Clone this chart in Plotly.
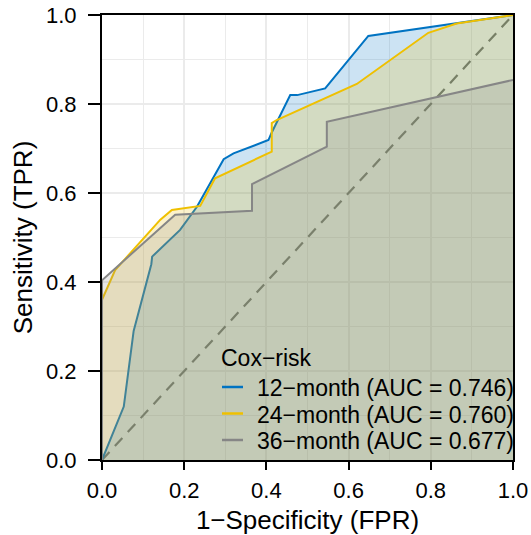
import plotly.graph_objects as go

# ---- data ----
fpr_12 = [0, 0.053, 0.077, 0.12, 0.122, 0.19, 0.231, 0.296, 0.32, 0.405, 0.413, 0.458, 0.475, 0.543, 0.648, 0.863, 1.0]
tpr_12 = [0, 0.12, 0.29, 0.44, 0.457, 0.517, 0.569, 0.676, 0.689, 0.719, 0.736, 0.82, 0.82, 0.835, 0.953, 0.981, 1.0]

fpr_24 = [0, 0, 0.032, 0.142, 0.17, 0.239, 0.275, 0.413, 0.413, 0.425, 0.62, 0.794, 0.863, 1.0]
tpr_24 = [0, 0.36, 0.427, 0.54, 0.562, 0.571, 0.633, 0.693, 0.757, 0.764, 0.845, 0.96, 0.981, 1.0]

fpr_36 = [0, 0, 0.178, 0.365, 0.365, 0.547, 0.547, 1.0]
tpr_36 = [0, 0.404, 0.551, 0.56, 0.62, 0.704, 0.76, 0.854]

series_names = ["12\u2212month (AUC = 0.746)", "24\u2212month (AUC = 0.760)", "36\u2212month (AUC = 0.677)"]
legend_title = "Cox\u2212risk"
x_title = "1\u2212Specificity (FPR)"
y_title = "Sensitivity (TPR)"
tick_vals = [0, 0.2, 0.4, 0.6, 0.8, 1.0]
diag = [0, 1]

colors = ["#0073C2", "#EFC000", "#868686"]
fills = ["rgba(0,115,194,0.2)", "rgba(239,192,0,0.2)", "rgba(134,134,134,0.2)"]

FONT = "Liberation Sans, Arial, sans-serif"

# plot-area geometry in window pixels
PL, PR, PT, PB = 102, 513, 15, 460
W, H = 531, 535
def px_to_paper_x(px):
    return (px - PL) / (PR - PL)
def px_to_paper_y(py):
    return (PB - py) / (PB - PT)

fig = go.Figure()

# reference diagonal
fig.add_trace(go.Scatter(x=diag, y=diag, mode="lines",
                         line=dict(color="#707070", width=2.2, dash="11px,8px"),
                         showlegend=False, hoverinfo="skip"))

for fx, ty, name, c, fc in zip([fpr_12, fpr_24, fpr_36], [tpr_12, tpr_24, tpr_36],
                               series_names, colors, fills):
    fig.add_trace(go.Scatter(x=fx, y=ty, mode="lines", fill="tozeroy", fillcolor=fc,
                             line=dict(color=c, width=2), name=name, showlegend=False))

axis_common = dict(
    range=[0, 1], tickvals=tick_vals, tickformat=".1f",
    showline=True, linecolor="black", linewidth=2, mirror=True,
    ticks="outside", tickwidth=2, tickcolor="black",
    showgrid=True, gridcolor="#EBEBEB", gridwidth=1.5,
    minor=dict(dtick=0.1, showgrid=True, gridcolor="#EBEBEB", gridwidth=1.2, ticks=""),
    zeroline=False, automargin=False, ticklabeloverflow="allow",
    tickfont=dict(size=22, color="black", family=FONT),
    title_font=dict(size=26, color="black", family=FONT),
)

fig.update_xaxes(**axis_common, ticklen=8, ticklabelstandoff=2,
                 title_text=x_title, title_standoff=10)
fig.update_yaxes(**axis_common, ticklen=12, ticklabelstandoff=7,
                 title_text=y_title, title_standoff=6)

# legend (drawn inside the panel, like the reference)
key_y = [387, 413.5, 440]
text_y = [388, 414.5, 441]
annotations = [dict(text=legend_title, x=px_to_paper_x(219), y=px_to_paper_y(358),
                    xref="paper", yref="paper", xanchor="left", yanchor="middle",
                    showarrow=False, font=dict(size=23, family=FONT, color="black"))]
shapes = []
for name, c, ky, ty in zip(series_names, colors, key_y, text_y):
    annotations.append(dict(text=name, x=px_to_paper_x(255), y=px_to_paper_y(ty),
                            xref="paper", yref="paper", xanchor="left", yanchor="middle",
                            showarrow=False, font=dict(size=23, family=FONT, color="black")))
    shapes.append(dict(type="line", xref="paper", yref="paper",
                       x0=px_to_paper_x(222), x1=px_to_paper_x(243),
                       y0=px_to_paper_y(ky), y1=px_to_paper_y(ky),
                       line=dict(color=c, width=2.5)))

fig.update_layout(
    width=W, height=H,
    margin=dict(l=PL, r=W - PR, t=PT, b=H - PB),
    plot_bgcolor="white", paper_bgcolor="white",
    font=dict(family=FONT, color="black"),
    showlegend=False,
    annotations=annotations, shapes=shapes,
)

fig.write_html("out.html",
               config={"displayModeBar": False},
               post_script="document.body.style.margin='0';document.body.style.overflow='hidden';")
